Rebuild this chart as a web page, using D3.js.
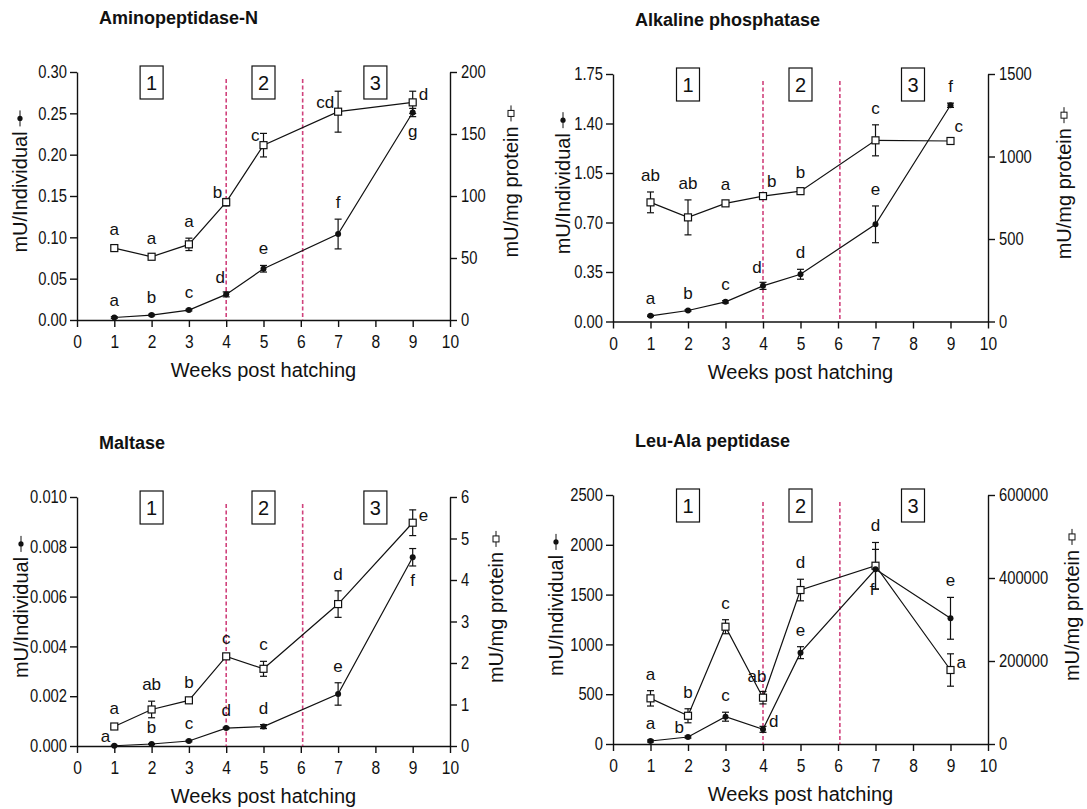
<!DOCTYPE html>
<html>
<head>
<meta charset="utf-8">
<script src="https://cdn.jsdelivr.net/npm/d3@7"></script>
<style>
    body { margin: 0; background: #fff; }
    svg text { font-family: "Liberation Sans", Arial, sans-serif; fill: #111; }
</style>
</head>
<body>
<svg id="chart" width="1087" height="809"></svg>
<script>
// shared x values and decorations
const weeks = [1, 2, 3, 4, 5, 7, 9];
const xTicks = [0, 1, 2, 3, 4, 5, 6, 7, 8, 9, 10];
const phaseNames = ['1', '2', '3'];
const phaseCenters = [2, 5, 8];
const phaseBounds = [4, 6.05];

// Aminopeptidase-N
const apnIndiv = [0.003, 0.006, 0.012, 0.031, 0.062, 0.104, 0.251];
const apnIndivErr = [0.001, 0.001, 0.001, 0.003, 0.004, 0.018, 0.005];
const apnIndivLetters = ['a', 'b', 'c', 'd', 'e', 'f', 'g'];
const apnIndivSides = ['t', 't', 't', 'tl', 't', 't', 'b'];
const apnProt = [58, 51, 61, 95, 141, 168, 175.5];
const apnProtErr = [2, 1.5, 5, 3, 9.5, 16.5, 9];
const apnProtLetters = ['a', 'a', 'a', 'b', 'c', 'cd', 'd'];
const apnProtSides = ['t', 't', 't', 'l', 'l', 'l', 'r'];
const apnLeftTicks = [0, 0.05, 0.10, 0.15, 0.20, 0.25, 0.30];
const apnRightTicks = [0, 50, 100, 150, 200];

// Alkaline phosphatase
const alpIndiv = [0.040, 0.078, 0.139, 0.252, 0.334, 0.687, 1.529];
const alpIndivErr = [0.005, 0.005, 0.008, 0.025, 0.035, 0.13, 0.015];
const alpIndivLetters = ['a', 'b', 'c', 'd', 'd', 'e', 'f'];
const alpIndivSides = ['t', 't', 't', 'tl', 't', 't', 't'];
const alpProt = [722, 631, 716, 760, 790, 1098, 1094];
const alpProtErr = [63, 106, 12, 12, 15, 94, 18];
const alpProtLetters = ['ab', 'ab', 'a', 'b', 'b', 'c', 'c'];
const alpProtSides = ['t', 't', 't', 'tr', 't', 't', 'tr'];
const alpLeftTicks = [0, 0.35, 0.70, 1.05, 1.40, 1.75];
const alpRightTicks = [0, 500, 1000, 1500];

// Maltase
const malIndiv = [0.00001, 0.00008, 0.0002, 0.00072, 0.00078, 0.00209, 0.00758];
const malIndivErr = [0.00002, 0.00002, 0.00003, 0.00003, 0.00008, 0.00045, 0.00035];
const malIndivLetters = ['a', 'b', 'c', 'd', 'd', 'e', 'f'];
const malIndivSides = ['l', 't', 't', 't', 't', 't', 'b'];
const malProt = [0.47, 0.88, 1.10, 2.16, 1.86, 3.42, 5.38];
const malProtErr = [0.03, 0.2, 0.03, 0.04, 0.18, 0.32, 0.31];
const malProtLetters = ['a', 'ab', 'b', 'c', 'c', 'd', 'e'];
const malProtSides = ['t', 't', 't', 't', 't', 't', 'r'];
const malLeftTicks = [0, 0.002, 0.004, 0.006, 0.008, 0.010];
const malRightTicks = [0, 1, 2, 3, 4, 5, 6];

// Leu-Ala peptidase
const laIndiv = [30, 70, 274, 147, 917, 1754, 1262];
const laIndivErr = [10, 10, 45, 30, 60, 200, 210];
const laIndivLetters = ['a', 'b', 'c', 'd', 'e', 'f', 'e'];
const laIndivSides = ['t', 'l', 't', 'r', 't', 'bl', 't'];
const laProt = [110000, 68000, 282600, 111600, 371000, 429600, 178300];
const laProtErr = [18500, 16900, 16900, 15000, 26000, 56000, 39000];
const laProtLetters = ['a', 'b', 'c', 'ab', 'd', 'd', 'a'];
const laProtSides = ['t', 't', 't', 'tl', 't', 't', 'r'];
const laLeftTicks = [0, 500, 1000, 1500, 2000, 2500];
const laRightTicks = [0, 200000, 400000, 600000];

const panels = [
    { title: 'Aminopeptidase-N', x0: 77, x1: 450, yTop: 72, yBottom: 320, leftLabelX: 27, rightLabelX: 518,
      indiv: apnIndiv, indivErr: apnIndivErr, indivLetters: apnIndivLetters, indivSides: apnIndivSides,
      prot: apnProt, protErr: apnProtErr, protLetters: apnProtLetters, protSides: apnProtSides,
      leftTicks: apnLeftTicks, rightTicks: apnRightTicks, leftFmt: '.2f' },
    { title: 'Alkaline phosphatase', x0: 613, x1: 988, yTop: 74, yBottom: 321.5, leftLabelX: 570, rightLabelX: 1071,
      indiv: alpIndiv, indivErr: alpIndivErr, indivLetters: alpIndivLetters, indivSides: alpIndivSides,
      prot: alpProt, protErr: alpProtErr, protLetters: alpProtLetters, protSides: alpProtSides,
      leftTicks: alpLeftTicks, rightTicks: alpRightTicks, leftFmt: '.2f' },
    { title: 'Maltase', x0: 77, x1: 450, yTop: 497, yBottom: 746, leftLabelX: 28, rightLabelX: 503,
      indiv: malIndiv, indivErr: malIndivErr, indivLetters: malIndivLetters, indivSides: malIndivSides,
      prot: malProt, protErr: malProtErr, protLetters: malProtLetters, protSides: malProtSides,
      leftTicks: malLeftTicks, rightTicks: malRightTicks, leftFmt: '.3f' },
    { title: 'Leu-Ala peptidase', x0: 613, x1: 988, yTop: 495, yBottom: 744, leftLabelX: 563, rightLabelX: 1079,
      indiv: laIndiv, indivErr: laIndivErr, indivLetters: laIndivLetters, indivSides: laIndivSides,
      prot: laProt, protErr: laProtErr, protLetters: laProtLetters, protSides: laProtSides,
      leftTicks: laLeftTicks, rightTicks: laRightTicks, leftFmt: 'd' }
];

const svg = d3.select('#chart');
const ink = '#111';
const narrow = 0.82; // tick labels in the original use a condensed face

function styleAxis(g, size) {
    g.attr('font-family', null).attr('font-size', null);
    g.select('.domain').attr('stroke', ink).attr('stroke-width', 1.4);
    g.selectAll('.tick line').attr('stroke', ink).attr('stroke-width', 1.4);
    g.selectAll('.tick text')
        .style('font-size', size + 'px')
        .attr('fill', ink)
        .each(function () {
            const t = d3.select(this);
            const x0 = +t.attr('x') || 0;
            t.attr('x', x0 / narrow).attr('transform', `scale(${narrow},1)`);
        });
}

function letterPos(side, px, py, top, bottom) {
    switch (side) {
        case 'b': return { x: px, y: bottom + 20, anchor: 'middle' };
        case 'l': return { x: px - 4, y: py - 4, anchor: 'end' };
        case 'r': return { x: px + 6, y: py - 2, anchor: 'start' };
        case 'tl': return { x: px - 6, y: top - 9, anchor: 'middle' };
        case 'tr': return { x: px + 4, y: py - 9, anchor: 'start' };
        case 'bl': return { x: px - 1, y: bottom + 6, anchor: 'end' };
        default: return { x: px, y: top - 11, anchor: 'middle' };
    }
}

function drawSeries(g, x, y, values, errs, letters, sides) {
    const pts = weeks.map((w, i) => ({ w: w, v: values[i], e: errs[i], letter: letters[i], side: sides[i] }));

    g.append('path')
        .datum(pts)
        .attr('fill', 'none')
        .attr('stroke', ink)
        .attr('stroke-width', 1.2)
        .attr('d', d3.line().x(d => x(d.w)).y(d => y(d.v)));

    const bars = g.selectAll(null).data(pts).enter().append('g');
    bars.append('line')
        .attr('x1', d => x(d.w)).attr('x2', d => x(d.w))
        .attr('y1', d => y(d.v - d.e)).attr('y2', d => y(d.v + d.e))
        .attr('stroke', ink).attr('stroke-width', 1.2);
    [1, -1].forEach(s => {
        bars.append('line')
            .attr('x1', d => x(d.w) - 3.5).attr('x2', d => x(d.w) + 3.5)
            .attr('y1', d => y(d.v + s * d.e)).attr('y2', d => y(d.v + s * d.e))
            .attr('stroke', ink).attr('stroke-width', 1.2);
    });

    return pts;
}

function drawMarkers(g, x, y, pts, marker) {
    if (marker === 'square') {
        g.selectAll(null).data(pts).enter().append('rect')
            .attr('x', d => x(d.w) - 3.5).attr('y', d => y(d.v) - 3.5)
            .attr('width', 7).attr('height', 7)
            .attr('fill', '#fff').attr('stroke', ink).attr('stroke-width', 1.2);
    } else {
        g.selectAll(null).data(pts).enter().append('circle')
            .attr('cx', d => x(d.w)).attr('cy', d => y(d.v))
            .attr('r', 3).attr('fill', ink);
    }
}

function drawLetters(g, x, y, pts) {
    pts.forEach(d => {
        const p = letterPos(d.side, x(d.w), y(d.v), y(d.v + d.e), y(d.v - d.e));
        g.append('text')
            .attr('x', p.x).attr('y', p.y)
            .attr('text-anchor', p.anchor)
            .style('font-size', '17px')
            .text(d.letter);
    });
}

function axisTitle(g, px, cy, label, marker) {
    const t = g.append('g').attr('transform', `translate(${px},${cy}) rotate(-90)`);
    const txt = t.append('text')
        .attr('text-anchor', 'middle')
        .style('font-size', '20px')
        .text(label);
    const half = txt.node().getComputedTextLength() / 2;
    t.append('line')
        .attr('x1', half + 5).attr('x2', half + 21)
        .attr('y1', -7).attr('y2', -7)
        .attr('stroke', ink).attr('stroke-width', 1);
    if (marker === 'square') {
        t.append('rect')
            .attr('x', half + 10).attr('y', -10)
            .attr('width', 6).attr('height', 6)
            .attr('fill', '#fff').attr('stroke', ink).attr('stroke-width', 1);
    } else {
        t.append('circle').attr('cx', half + 13).attr('cy', -7).attr('r', 2.6).attr('fill', ink);
    }
}

function drawPanel(p) {
    const g = svg.append('g');
    const x = d3.scaleLinear().domain([0, 10]).range([p.x0, p.x1]);
    const yL = d3.scaleLinear().domain(d3.extent(p.leftTicks)).range([p.yBottom, p.yTop]);
    const yR = d3.scaleLinear().domain(d3.extent(p.rightTicks)).range([p.yBottom, p.yTop]);

    // title
    g.append('text')
        .attr('x', p.x0 + 22).attr('y', p.yTop - 48.5)
        .style('font-size', '18px').style('font-weight', 'bold')
        .text(p.title);

    // axes
    g.append('g')
        .attr('transform', `translate(0,${p.yBottom})`)
        .call(d3.axisBottom(x).tickValues(xTicks).tickFormat(d3.format('d')).tickSize(7).tickSizeOuter(0).tickPadding(8))
        .call(styleAxis, 19);
    g.append('g')
        .attr('transform', `translate(${p.x0},0)`)
        .call(d3.axisLeft(yL).tickValues(p.leftTicks).tickFormat(d3.format(p.leftFmt)).tickSize(7).tickSizeOuter(0).tickPadding(3))
        .call(styleAxis, 18);
    g.append('g')
        .attr('transform', `translate(${p.x1},0)`)
        .call(d3.axisRight(yR).tickValues(p.rightTicks).tickFormat(d3.format('d')).tickSize(7).tickSizeOuter(0).tickPadding(4))
        .call(styleAxis, 18);

    // phase boundaries
    g.selectAll(null).data(phaseBounds).enter().append('line')
        .attr('x1', d => x(d)).attr('x2', d => x(d))
        .attr('y1', p.yTop + 7).attr('y2', p.yBottom)
        .attr('stroke', '#d0427c').attr('stroke-width', 1.6)
        .attr('stroke-dasharray', '4,2.5');

    // phase boxes
    const boxes = g.selectAll(null).data(phaseCenters).enter().append('g');
    boxes.append('rect')
        .attr('x', d => x(d) - 11.5).attr('y', p.yTop - 6)
        .attr('width', 23).attr('height', 33)
        .attr('fill', '#fff').attr('stroke', ink).attr('stroke-width', 1.2);
    boxes.append('text')
        .attr('x', d => x(d)).attr('y', p.yTop + 17.5)
        .attr('text-anchor', 'middle')
        .style('font-size', '20px')
        .text((d, i) => phaseNames[i]);

    // series
    const protPts = drawSeries(g, x, yR, p.prot, p.protErr, p.protLetters, p.protSides);
    const indivPts = drawSeries(g, x, yL, p.indiv, p.indivErr, p.indivLetters, p.indivSides);
    drawMarkers(g, x, yR, protPts, 'square');
    drawMarkers(g, x, yL, indivPts, 'circle');
    drawLetters(g, x, yR, protPts);
    drawLetters(g, x, yL, indivPts);

    // axis titles
    g.append('text')
        .attr('x', (p.x0 + p.x1) / 2).attr('y', p.yBottom + 57)
        .attr('text-anchor', 'middle')
        .style('font-size', '20px')
        .text('Weeks post hatching');
    const mid = (p.yTop + p.yBottom) / 2 - 4;
    axisTitle(g, p.leftLabelX, mid, 'mU/Individual', 'circle');
    axisTitle(g, p.rightLabelX, mid, 'mU/mg protein', 'square');
}

panels.forEach(drawPanel);
</script>
</body>
</html>
